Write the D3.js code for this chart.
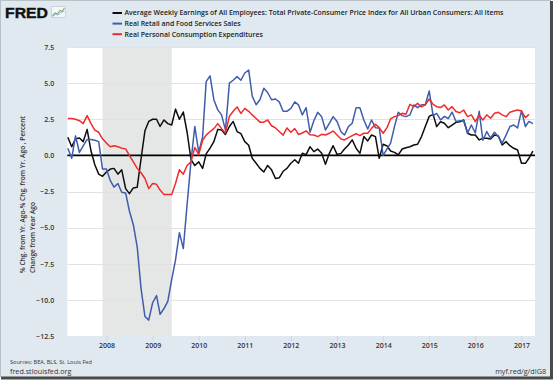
<!DOCTYPE html>
<html><head><meta charset="utf-8">
<script src="https://cdn.jsdelivr.net/npm/d3@7/dist/d3.min.js"></script>
<style>
html,body{margin:0;padding:0;background:#fff;}
svg{display:block;font-family:"Open Sans",sans-serif;}
</style>
</head><body>
<svg id="chart" width="554" height="380"></svg>
<script>
// ---------------- data ----------------
const firstMonth = "2007-03-01";   // monthly observations start here
const seriesNames = [
  "Average Weekly Earnings of All Employees: Total Private-Consumer Price Index for All Urban Consumers: All Items",
  "Real Retail and Food Services Sales",
  "Real Personal Consumption Expenditures"
];
const earnings = [
  1.25, 0.6, 1.15, 1.2, 0.95, 1.8, 0.3, -0.65, -1.3, -1.45,
  -1.15, -0.95, -0.9, -1.3, -1.0, -2.3, -2.65, -2.25, -2.2, -0.25, 1.7, 2.35,
  2.5, 2.5, 2.0, 2.45, 2.2, 2.1, 3.2, 2.5, 3.0, 1.6, -0.3, -0.7,
  -0.45, -0.9, 0.1, 0.5, 0.95, 1.8, 1.75, 1.45, 2.0, 2.35, 1.65, 1.5,
  0.95, 0.7, -0.2, -0.55, -0.9, -1.15, -0.7, -1.0, -1.6, -1.55, -1.1, -0.9,
  -0.55, -0.3, -0.55, 0.15, 0.05, 0.6, 0.26, 0.44, 0.14, -0.62, 0.14, 0.67,
  0.07, 0.14, 0.44, 0.72, 1.07, 0.49, 0.14, 1.3, 1.0, 1.41, 1.3, -0.2,
  0.77, 0.65, 0.3, 0.21, 0.03, 0.44, 0.53, 0.6, 0.72, 0.77, 1.3, 2.0,
  2.7, 2.84, 1.99, 2.33, 2.22, 1.92, 2.1, 2.29, 2.33, 2.45, 1.53, 1.41,
  1.41, 1.07, 1.18, 1.18, 1.13, 1.41, 1.35, 0.72, 0.95, 0.67, 0.49, 0.37,
  -0.55, -0.55, -0.2, 0.3
];
const retail = [
  0.5, -0.2, 1.35, 0.2, 0.65, 1.1, 1.1, 1.05, 0.95, -0.95,
  -0.95, -1.75, -2.2, -1.95, -2.55, -2.6, -3.85, -4.8, -6.35, -9.2, -11.15, -11.4,
  -10.2, -9.7, -11.0, -10.6, -10.1, -8.6, -7.25, -5.35, -6.45, -3.4, -0.4, 2.0,
  0.2, 1.3, 5.1, 5.5, 3.85, 3.15, 2.8, 1.75, 5.0, 5.2, 5.45, 5.2,
  5.7, 5.9, 4.1, 3.5, 3.85, 4.65, 4.35, 3.85, 3.9, 3.7, 3.05, 3.05,
  3.25, 3.7, 3.5, 2.8, 3.3, 1.6, 2.4, 2.98, 2.68, 1.76, 2.22, 2.68,
  2.34, 1.64, 1.41, 1.99, 2.22, 3.3, 3.3, 2.45, 1.82, 2.45, 1.92, 1.9,
  0.0, 0.45, 0.85, 1.99, 2.98, 2.75, 2.68, 2.8, 3.49, 3.3, 3.5, 3.5,
  4.45, 2.75, 2.9, 2.45, 2.7, 2.55, 3.0, 2.35, 2.4, 2.4, 1.55, 2.1,
  1.55, 3.05, 1.05, 1.65, 1.2, 1.6, 1.3, 0.85, 1.4, 2.0, 2.1, 1.9,
  3.1, 2.0, 2.35, 2.2
];
const pce = [
  2.55, 2.55, 2.5, 2.4, 2.2, 2.75, 2.2, 1.75, 1.6, 1.15,
  0.85, 0.6, 0.67, 0.6, 0.5, 0.45, 0.0, -0.45, -0.9, -1.2, -1.6, -2.3,
  -1.95, -2.0, -2.4, -2.7, -2.7, -2.7, -1.95, -1.0, -1.3, -0.7, -0.45, 0.55,
  0.05, 1.05, 1.4, 1.65, 1.85, 2.2, 1.85, 1.55, 2.7, 3.05, 3.35, 2.9,
  3.25, 3.05, 2.8, 2.55, 2.3, 2.3, 2.45, 2.05, 1.9, 1.65, 1.4, 1.9,
  1.6, 1.85, 1.45, 1.55, 1.7, 1.42, 1.41, 1.3, 1.46, 1.41, 1.53, 1.69,
  1.41, 1.13, 1.07, 1.23, 1.37, 1.5, 1.37, 1.53, 1.53, 1.87, 2.15, 1.92,
  1.53, 1.92, 2.52, 2.68, 2.75, 2.91, 2.84, 3.53, 3.37, 3.6, 3.35, 3.5,
  3.9, 3.53, 3.37, 3.31, 3.49, 3.14, 3.37, 3.03, 2.95, 3.14, 2.68, 2.8,
  2.33, 2.8, 2.45, 2.8, 2.57, 2.91, 2.98, 2.8, 2.68, 2.98, 3.07, 3.14,
  3.07, 2.61, 2.84
];
const yTickValues = [7.5, 5.0, 2.5, 0.0, -2.5, -5.0, -7.5, -10.0, -12.5];
const xTickYears = [2008, 2009, 2010, 2011, 2012, 2013, 2014, 2015, 2016, 2017];
const recessionSpan = ["2007-12-01", "2009-06-01"];
const yAxisTitle = ["% Chg. from Yr. Ago-% Chg. from Yr. Ago , Percent", "Change from Year Ago"];
const sourceText = "Sources: BEA, BLS, St. Louis Fed";
const siteText = "fred.stlouisfed.org";
const linkText = "myf.red/g/dIG8";

// ---------------- layout ----------------
const W = 554, H = 380;
const plot = {left: 67.3, right: 535, top: 47, bottom: 336};
const colors = ["#0d0d0d", "#3f5dab", "#f02b2b"];
const parse = d3.timeParse("%Y-%m-%d");
const start = parse(firstMonth);
const toSeries = arr => arr.map((v, i) => ({date: d3.timeMonth.offset(start, i), value: v}));
const series = [toSeries(earnings), toSeries(retail), toSeries(pce)];

const x = d3.scaleTime()
  .domain([new Date(2007, 1, 25), new Date(2017, 3, 18)])
  .range([plot.left, plot.right]);
const y = d3.scaleLinear().domain([-12.5, 7.5]).range([plot.bottom, plot.top]);

const svg = d3.select("#chart");

// page background and frame
svg.append("rect").attr("x", 0).attr("y", 0).attr("width", W).attr("height", H).attr("fill", "#ffffff");
svg.append("rect").attr("x", 0).attr("y", 0).attr("width", 551).attr("height", 377).attr("fill", "#e1e9f0");
svg.append("line").attr("x1", 0.5).attr("x2", 0.5).attr("y1", 0).attr("y2", 377).attr("stroke", "#b8c0c8");
svg.append("line").attr("x1", 0).attr("x2", 551).attr("y1", 0.5).attr("y2", 0.5).attr("stroke", "#b8c0c8");
svg.append("rect").attr("x", 550).attr("y", 1).attr("width", 3).attr("height", 378).attr("fill", "#4a4a4a");
svg.append("rect").attr("x", 1).attr("y", 376.5).attr("width", 552).attr("height", 3).attr("fill", "#4a4a4a");

// plot background
svg.append("rect").attr("x", plot.left).attr("y", plot.top)
  .attr("width", plot.right - plot.left).attr("height", plot.bottom - plot.top).attr("fill", "#ffffff");

// recession shading
svg.append("rect")
  .attr("x", x(parse(recessionSpan[0]))).attr("y", plot.top)
  .attr("width", x(parse(recessionSpan[1])) - x(parse(recessionSpan[0])))
  .attr("height", plot.bottom - plot.top).attr("fill", "#e5e6e6");

// gridlines
svg.append("g").selectAll("line").data(yTickValues.filter(v => v > -12.5)).join("line")
  .attr("x1", plot.left).attr("x2", plot.right)
  .attr("y1", d => Math.round(y(d)) + 0.5).attr("y2", d => Math.round(y(d)) + 0.5)
  .attr("stroke", "#e2e2e2").attr("stroke-width", 1);

// y axis labels
const yAxis = d3.axisLeft(y).tickValues(yTickValues).tickFormat(d3.format(".1f")).tickSize(0).tickPadding(0);
const gy = svg.append("g").attr("transform", `translate(${plot.left - 13},0)`).call(yAxis);
gy.select(".domain").remove();
gy.selectAll("text").attr("font-size", 7).attr("fill", "#333").attr("font-family", "Open Sans").attr("font-weight", 600);

// x axis
const xAxis = d3.axisBottom(x).tickValues(xTickYears.map(yy => new Date(yy, 0, 1)))
  .tickFormat(d3.timeFormat("%Y")).tickSize(5).tickPadding(2.5);
const gx = svg.append("g").attr("transform", `translate(0,${plot.bottom})`).call(xAxis);
gx.select(".domain").remove();
gx.selectAll(".tick line").attr("stroke", "#ccd6e0");
gx.selectAll("text").attr("font-size", 7).attr("fill", "#333").attr("font-family", "Open Sans").attr("font-weight", 600);

// zero line
svg.append("line").attr("x1", plot.left).attr("x2", plot.right)
  .attr("y1", y(0)).attr("y2", y(0)).attr("stroke", "#000").attr("stroke-width", 1.6);

// series lines
const line = d3.line().x(d => x(d.date)).y(d => y(d.value));
svg.append("g").selectAll("path").data(series).join("path")
  .attr("d", line).attr("fill", "none")
  .attr("stroke", (d, i) => colors[i]).attr("stroke-width", 1.5)
  .attr("stroke-linejoin", "round");

// legend
const legend = svg.append("g");
seriesNames.forEach((name, i) => {
  const yy = 13 + i * 10.6;
  legend.append("line").attr("x1", 112.5).attr("x2", 122).attr("y1", yy).attr("y2", yy)
    .attr("stroke", colors[i]).attr("stroke-width", 2);
  legend.append("text").attr("x", 124.5).attr("y", yy + 2.4).text(name)
    .attr("font-size", 6.95).attr("font-weight", 600).attr("fill", "#222");
});

// y axis title
const yt = svg.append("text").attr("transform", "translate(25,273) rotate(-90)")
  .attr("font-size", 6.6).attr("font-weight", 600).attr("fill", "#333");
yAxisTitle.forEach((t, i) => {
  yt.append("tspan").attr("x", 0).attr("dy", i === 0 ? 0 : 9.6).text(t);
});

// FRED logo
svg.append("text").attr("x", 5).attr("y", 17.6).text("FRED")
  .attr("font-family", "Liberation Sans, Arial, sans-serif").attr("font-weight", 700)
  .attr("font-size", 14.8).attr("fill", "#111").attr("stroke", "#111").attr("stroke-width", 0.4)
  .attr("textLength", 43).attr("lengthAdjust", "spacingAndGlyphs");
const icon = svg.append("g").attr("transform", "translate(51,6)");
icon.append("rect").attr("x", 0.5).attr("y", 0.5).attr("width", 14).attr("height", 11)
  .attr("fill", "#f4f7f9").attr("stroke", "#c6ccd2").attr("stroke-width", 0.8);
icon.append("polyline").attr("points", "1.5,10 4,7 6.5,8 9,4.5 11,5.5 13.5,2")
  .attr("fill", "none").attr("stroke", "#7fb069").attr("stroke-width", 1.2);
icon.append("polyline").attr("points", "1.5,10.5 4.5,8.5 7,9 10,6.5 13.5,5")
  .attr("fill", "none").attr("stroke", "#8fb0d8").attr("stroke-width", 0.8);

// footer
svg.append("text").attr("x", 10).attr("y", 363.5).text(sourceText)
  .attr("font-size", 5.6).attr("fill", "#333");
svg.append("text").attr("x", 10).attr("y", 374.3).text(siteText)
  .attr("font-size", 7.2).attr("fill", "#333");
svg.append("text").attr("x", 546).attr("y", 374.3).attr("text-anchor", "end").text(linkText)
  .attr("font-size", 7.2).attr("fill", "#333");
</script>
</body></html>
